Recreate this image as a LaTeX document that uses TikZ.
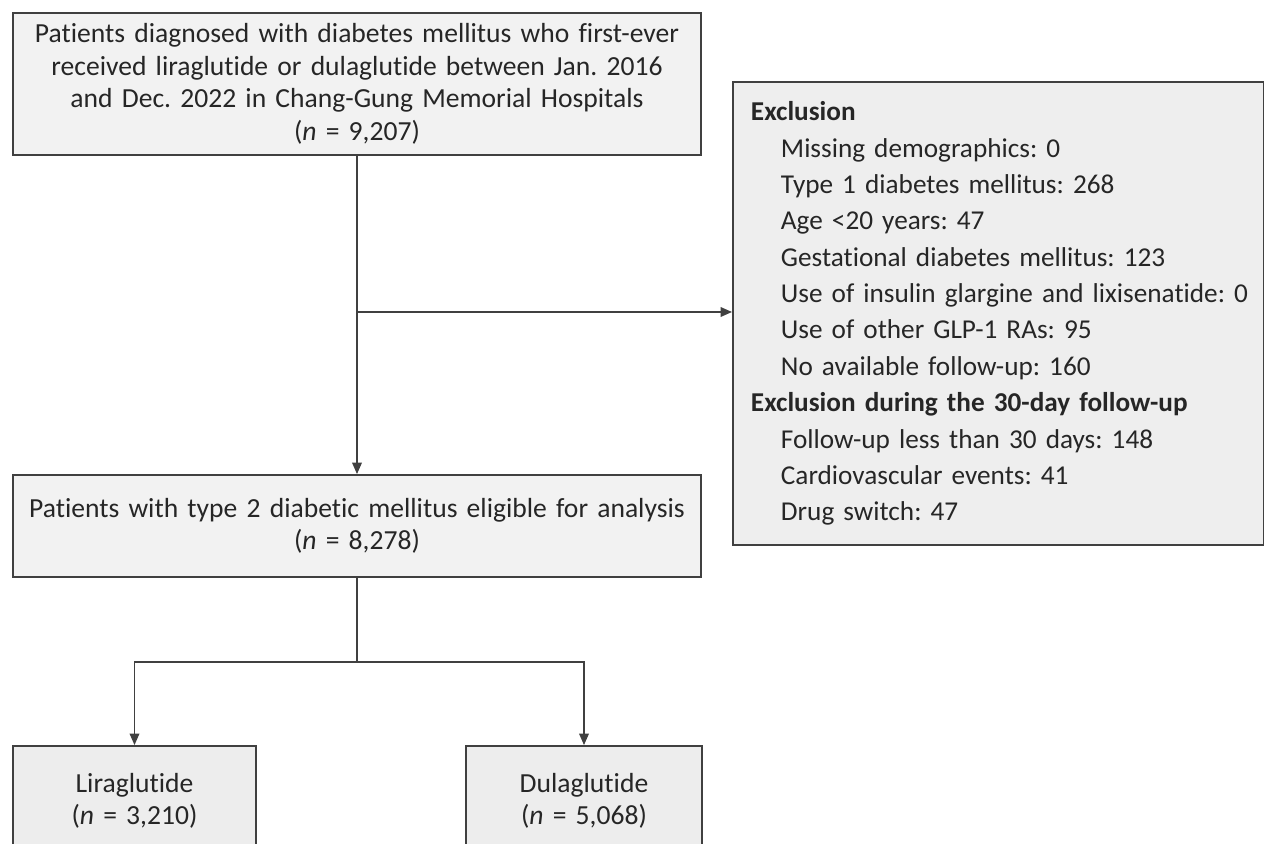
\documentclass[tikz,border=0pt]{standalone}
\usepackage{fontspec}
\setmainfont{Carlito}[Ligatures=NoCommon]
\frenchspacing
\usetikzlibrary{arrows.meta}
\definecolor{boxline}{HTML}{404040}
\definecolor{boxfill}{HTML}{F2F2F2}
\definecolor{exclfill}{HTML}{EEEEEE}
\definecolor{armfill}{HTML}{EDEDED}
\newcommand{\exitem}[1]{\hspace*{0.6cm}#1}
\tikzset{
  flowbox/.style={draw=boxline, line width=1.1pt, fill=boxfill, inner sep=0pt, align=center, text=black!85, font=\fontsize{15.7}{18.5}\selectfont},
  exclbox/.style={draw=boxline, line width=1.1pt, fill=exclfill, inner xsep=0.36cm, inner ysep=0pt, align=left, text=black!85, font=\fontsize{15.5}{20.7}\selectfont},
  armbox/.style={flowbox, fill=armfill},
  link/.style={draw=boxline, line width=0.75pt},
  linkarrow/.style={link, -{Triangle[length=6.5pt, width=5.5pt]}},
}

\begin{document}
\begin{tikzpicture}[x=0.02cm, y=-0.02cm]
\useasboundingbox (0,0) rectangle (1264,844);
\clip (0,0) rectangle (1264,844);
\fill[white] (0,0) rectangle (1264,844);
\node[flowbox, text width=13.76cm, minimum height=2.84cm] (cohort) at (357,84)
  {Patients diagnosed with diabetes mellitus who first-ever\\
   received liraglutide or dulaglutide between Jan. 2016\\
   and Dec. 2022 in Chang-Gung Memorial Hospitals\\
   (\textit{n} = 9,207)};
\node[exclbox, text width=9.9cm, minimum height=9.26cm, anchor=west] (excl) at (732,313.5)
  {\textbf{Exclusion}\\
   \exitem{Missing demographics: 0}\\
   \exitem{Type 1 diabetes mellitus: 268}\\
   \exitem{Age <20 years: 47}\\
   \exitem{Gestational diabetes mellitus: 123}\\
   \exitem{\makebox[9.3cm][l]{Use of insulin glargine and lixisenatide: 0}}\\
   \exitem{Use of other GLP-1 RAs: 95}\\
   \exitem{No available follow-up: 160}\\
   \textbf{Exclusion during the 30-day follow-up}\\
   \exitem{Follow-up less than 30 days: 148}\\
   \exitem{Cardiovascular events: 41}\\
   \exitem{Drug switch: 47}};
\node[flowbox, text width=13.76cm, minimum height=2.04cm] (eligible) at (357,526)
  {Patients with type 2 diabetic mellitus eligible for analysis\\
   (\textit{n} = 8,278)};
\node[armbox, text width=4.86cm, minimum height=2.2cm] (lira) at (134.5,801)
  {Liraglutide\\(\textit{n} = 3,210)};
\node[armbox, text width=4.72cm, minimum height=2.2cm] (dula) at (584,801)
  {Dulaglutide\\(\textit{n} = 5,068)};
% connectors
\coordinate (split) at (357,312);
\coordinate (fork) at (357,662);
\draw[linkarrow] (cohort.south) -- (eligible.north);
\draw[linkarrow] (split) -- (split -| excl.west);
\draw[link] (eligible.south) -- (fork);
\draw[linkarrow] (fork) -| (lira.north);
\draw[linkarrow] (fork) -| (dula.north);
\end{tikzpicture}
\end{document}
